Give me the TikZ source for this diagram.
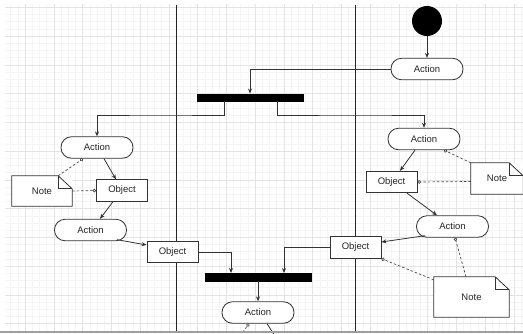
\documentclass[tikz,border=0pt]{standalone}
\usepackage{fontspec}
\setmainfont{Liberation Sans}
\usetikzlibrary{arrows.meta}
\begin{document}
\begin{tikzpicture}[x=1pt,y=-1pt,
  every node/.style={font=\fontsize{9.5}{11}\selectfont, text=black!85},
  ln/.style={draw=black!80, line width=0.8pt},
  arr/.style={ln, -{Stealth[length=5pt,width=4pt]}},
  dsh/.style={draw=black!70, line width=0.7pt, dash pattern=on 2.5pt off 2pt, -{Circle[open,length=3.5pt,width=3.5pt]}},
  action/.style={ln, fill=white, rounded corners=10.5pt, minimum width=72pt, minimum height=21.5pt, inner sep=0pt},
  object/.style={ln, fill=white, minimum width=51pt, minimum height=21.5pt, inner sep=0pt},
  bar/.style={fill=black, draw=black, minimum width=106pt, minimum height=7.5pt, inner sep=0pt},
  notebox/.style={fill=white, minimum width=#1, inner sep=0pt},
  minorg/.style={draw=black!4, line width=0.35pt},
  majorg/.style={draw=black!11, line width=0.45pt}
]
\clip (0,0) rectangle (523,333);
\fill[white] (0,0) rectangle (523,333);
% grid
\begin{scope}
\clip (5,4) rectangle (523,331);
\foreach \i in {0,...,76} {\draw[minorg] ({-3.75+\i*7.1875},0) -- ({-3.75+\i*7.1875},333);}
\foreach \j in {0,...,50} {\draw[minorg] (0,{-21.5+\j*7.1875}) -- (523,{-21.5+\j*7.1875});}
\foreach \i in {0,...,19} {\draw[majorg] ({-3.75+\i*28.75},0) -- ({-3.75+\i*28.75},333);}
\foreach \j in {0,...,12} {\draw[majorg] (0,{-21.5+\j*28.75}) -- (523,{-21.5+\j*28.75});}
\end{scope}
% swimlane lines
\draw[draw=black!85, line width=0.9pt] (176,5) -- (176,331);
\draw[draw=black!85, line width=0.9pt] (355,5) -- (355,331);

% notes (boxes for text; outline drawn below)
\node[notebox=60pt, minimum height=30pt] (nl) at (42,191) {Note};
\node[notebox=52pt, minimum height=31pt] (nr1) at (497,178.5) {Note};
\node[notebox=75pt, minimum height=40pt] (nr2) at (471.5,297) {Note};
\foreach \n in {nl,nr1,nr2} {
  \draw[ln] (\n.north west) -- ([xshift=-14pt]\n.north east) -- ([yshift=-13pt]\n.north east) -- (\n.south east) -- (\n.south west) -- cycle;
  \draw[ln] ([xshift=-14pt]\n.north east) |- ([yshift=-13pt]\n.north east);
}

% nodes
\node[circle, fill=black, minimum size=30pt, inner sep=0pt] (start) at (427,21) {};
\node[action] (a1) at (427,69) {Action};
\node[bar] (bar1) at (250,97.5) {};
\node[action] (al1) at (97,147.5) {Action};
\node[object] (ol) at (122,190.5) {Object};
\node[action] (al2) at (90.5,230) {Action};
\node[object] (om) at (172.5,252) {Object};
\node[bar] (bar2) at (258,277) {};
\node[action] (ab) at (258,312.5) {Action};
\node[action] (ar1) at (424,139) {Action};
\node[object] (or1) at (391.5,182) {Object};
\node[action] (ar2) at (452.5,226.5) {Action};
\node[object] (or2) at (355.5,247.5) {Object};
\coordinate (offL) at (240,336);
\coordinate (offR) at (275,336);

% control flow
\draw[arr] (start) -- (a1);
\draw[arr] (a1.west) -| (bar1.north);
\draw[arr] ([xshift=-26pt]bar1.south) |- (160,115) -| (al1.north);
\draw[arr] ([xshift=27pt]bar1.south) |- (360,115) -| (ar1.north);
\draw[arr] ([xshift=7pt]al1.south) -- ([xshift=-6pt]ol.north);
\draw[arr] ([xshift=-9pt]ol.south) -- ([xshift=9.5pt]al2.north);
\draw[arr] ([xshift=-10pt,yshift=1.5pt]al2.south east) -- ([yshift=7pt]om.west);
\draw[arr] (om.east) -| ([xshift=-27pt]bar2.north);
\draw[arr] ([xshift=-9pt]ar1.south) -- ([xshift=8.5pt]or1.north);
\draw[arr] ([xshift=15.5pt]or1.south) -- ([xshift=-15.5pt]ar2.north);
\draw[arr] ([xshift=9pt,yshift=2pt]ar2.south west) -- ([yshift=5.5pt]or2.east);
\draw[arr] (or2.west) -| ([xshift=26pt]bar2.north);
\draw[arr] (bar2.south) -- (ab.north);
\draw[ln] ([xshift=9pt]ab.south) -- (offR);

% note links
\draw[dsh] ([xshift=-14pt]nl.north east) -- ([xshift=-14pt]al1.south);
\draw[dsh] (nl.east) -- (ol.west);
\draw[dsh] (nr1.north west) -- ([xshift=20pt]ar1.south);
\draw[dsh] ([yshift=-3pt]nr1.west) -- (or1.east);
\draw[dsh] ([xshift=-5.5pt]nr2.north) -- ([xshift=2.5pt]ar2.south);
\draw[dsh] ([yshift=-3pt]nr2.north west) -- (or2.south east);
\draw[dsh] (offL) -- ([xshift=-9pt]ab.south);

% bottom strip
\fill[black!38] (0,331) rectangle (523,333);
\end{tikzpicture}
\end{document}
